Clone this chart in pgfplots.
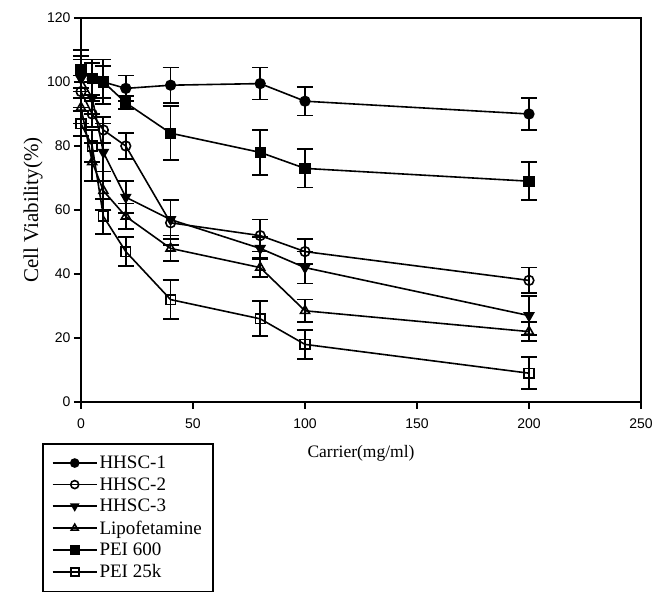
\documentclass[border=0pt]{standalone}
\usepackage{fontspec}
\setmainfont{Liberation Serif}
\newfontfamily\arialfont{Liberation Sans}
\usepackage{pgfplots}
\pgfplotsset{compat=1.18}

% x  y  err
\pgfplotsset{
  ser/.style={black, solid, line width=1.6pt, mark size=4.8pt,
    error bars/y dir=both, error bars/y explicit,
    error bars/error bar style={line width=1.8pt, solid},
    error bars/error mark options={rotate=90, mark size=8pt, line width=1.8pt, solid}},
}

\begin{document}
\begin{tikzpicture}
\useasboundingbox (-81pt,-194pt) rectangle (573pt,402pt);
\begin{axis}[
    scale only axis,
    width=560pt, height=384pt,
    xmin=0, xmax=250, ymin=0, ymax=120,
    xtick={0,50,100,150,200,250},
    ytick={0,20,40,60,80,100,120},
    xtick pos=left, ytick pos=left,
    tick align=outside,
    major tick length=7pt,
    axis line style={line width=1.8pt},
    tick style={line width=1.8pt, black},
    /pgf/number format/assume math mode=true,
    ticklabel style={font=\arialfont\fontsize{14}{16}\selectfont},
    xticklabel style={yshift=-6pt},
    xlabel={\fontsize{17.5}{19}\selectfont Carrier(mg/ml)},
    ylabel={\fontsize{21}{23}\selectfont Cell Viability(\%)},
    xlabel style={at={(axis description cs:0.5,0)}, anchor=center, yshift=-51pt},
    ylabel style={at={(axis description cs:-0.0857,0.5)}, anchor=center},
    clip=false,
    legend style={at={(axis description cs:-0.0696,-0.107)}, anchor=north west,
      draw=black, line width=1.8pt, font=\fontsize{19}{21}\selectfont,
      row sep=3.5pt, inner xsep=9pt, inner ysep=10pt,
      /tikz/every even column/.append style={column sep=5pt}},
    legend cell align=left,
    legend image code/.code={
      \draw[mark repeat=2, mark phase=2, mark size=4pt, #1] plot coordinates {(0pt,0pt)(22pt,0pt)(44pt,0pt)};},
]

\addplot[ser, mark=*] table[y error index=2] {
x y e
0 103 5
5 101 6
10 100 7
20 98 4
40 99 5.5
80 99.5 5
100 94 4.5
200 90 5
};
\addlegendentry{HHSC-1}

\addplot[ser, mark=o, mark options={fill=white, solid}] table[y error index=2] {
x y e
0 97 5
5 90 4
10 85 4
20 80 4
40 56 7
80 52 5
100 47 4
200 38 4
};
\addlegendentry{HHSC-2}

\addplot[ser, mark=triangle*, mark size=5.2pt, mark options={rotate=180, solid}] table[y error index=2] {
x y e
0 101 6
5 95 5
10 78 9
20 64 5
40 57 6
80 48 3.5
100 42 5
200 27 6
};
\addlegendentry{HHSC-3}

\addplot[ser, mark=triangle, mark size=5.2pt, mark options={fill=white, solid}] table[y error index=2] {
x y e
0 92 5
5 75 6
10 66 6
20 58 4
40 48 4
80 42 3
100 28.5 3.5
200 22 3
};
\addlegendentry{Lipofetamine}

\addplot[ser, mark=square*, mark options={solid}] table[y error index=2] {
x y e
0 104 6
5 101 5
10 100 5
20 93.5 2
40 84 8.5
80 78 7
100 73 6
200 69 6
};
\addlegendentry{PEI 600}

\addplot[ser, mark=square, mark options={fill=white, solid}] table[y error index=2] {
x y e
0 87 4
5 80 5
10 58 5.5
20 47 4.5
40 32 6
80 26 5.5
100 18 4.5
200 9 5
};
\addlegendentry{PEI 25k}

\end{axis}
\end{tikzpicture}
\end{document}
